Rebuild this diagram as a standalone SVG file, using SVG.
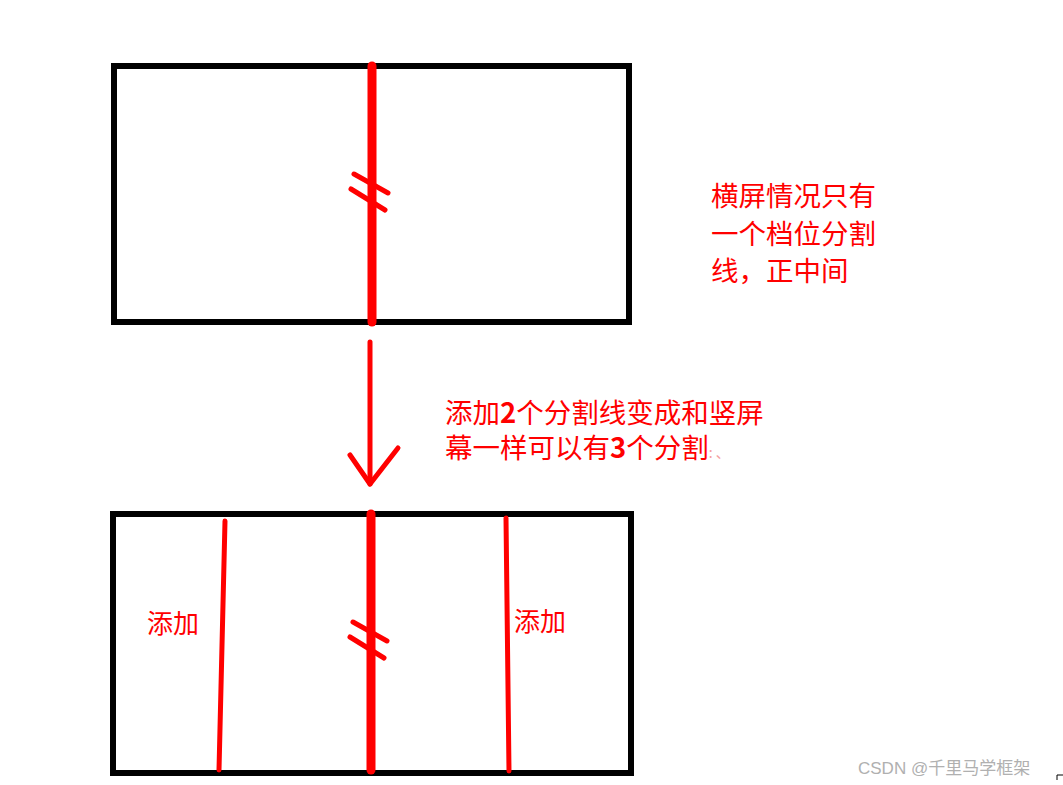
<svg xmlns="http://www.w3.org/2000/svg" width="1063" height="785" viewBox="0 0 1063 785">
<style>
.box{fill:none;stroke:#000;stroke-width:6}
.red{fill:none;stroke:#ff0000;stroke-linecap:round;stroke-linejoin:round}
.t{font-family:"Noto Sans CJK SC","Noto Sans",sans-serif;fill:#ff0000;font-size:27.5px}
.s{font-size:26px}
.wm{font-family:"Liberation Sans","Noto Sans CJK SC",sans-serif;fill:#b0b0b0;font-size:17px}
</style>
<rect width="1063" height="785" fill="#fff"/>
<g id="landscape">
<rect class="box" x="114" y="66" width="515" height="256"/>
<line class="red" x1="372" y1="66" x2="372" y2="322" stroke-width="9" stroke-linecap="butt"/>
<line class="red" x1="354" y1="174" x2="388" y2="193" stroke-width="5"/>
<line class="red" x1="351" y1="189" x2="385" y2="210" stroke-width="5"/>
</g>
<g id="landscape-note">
<text class="t" x="711" y="206">横屏情况只有</text>
<text class="t" x="711" y="244">一个档位分割</text>
<text class="t" x="711" y="281">线，正中间</text>
</g>
<g id="connectors">
<line class="red" x1="370" y1="342" x2="370" y2="484" stroke-width="5"/>
<polyline class="red" points="350,455 370,484 398,448" stroke-width="5"/>
</g>
<g id="arrow-label">
<text class="t" x="445" y="423">添加<tspan font-weight="bold">2</tspan>个分割线变成和竖屏</text>
<text class="t" x="445" y="458">幕一样可以有<tspan font-weight="bold">3</tspan>个分割<tspan font-size="14" fill="#f4a0a0">: 、</tspan></text>
</g>
<g id="three-splits">
<rect class="box" x="113" y="514" width="518" height="259"/>
<line class="red" x1="371" y1="514" x2="371" y2="770" stroke-width="9" stroke-linecap="butt"/>
<line class="red" x1="353" y1="622" x2="387" y2="641" stroke-width="5"/>
<line class="red" x1="350" y1="637" x2="384" y2="658" stroke-width="5"/>
<line class="red" x1="225" y1="521" x2="219" y2="770" stroke-width="5"/>
<line class="red" x1="506" y1="518" x2="509" y2="771" stroke-width="5"/>
<text class="t s" x="147" y="633">添加</text>
<text class="t s" x="514" y="631">添加</text>
</g>
<g id="watermark">
<text class="wm" x="858" y="774">CSDN @千里马学框架</text>
<path d="M1057,780 V775 H1063" fill="none" stroke="#000" stroke-width="1"/>
</g>
</svg>
